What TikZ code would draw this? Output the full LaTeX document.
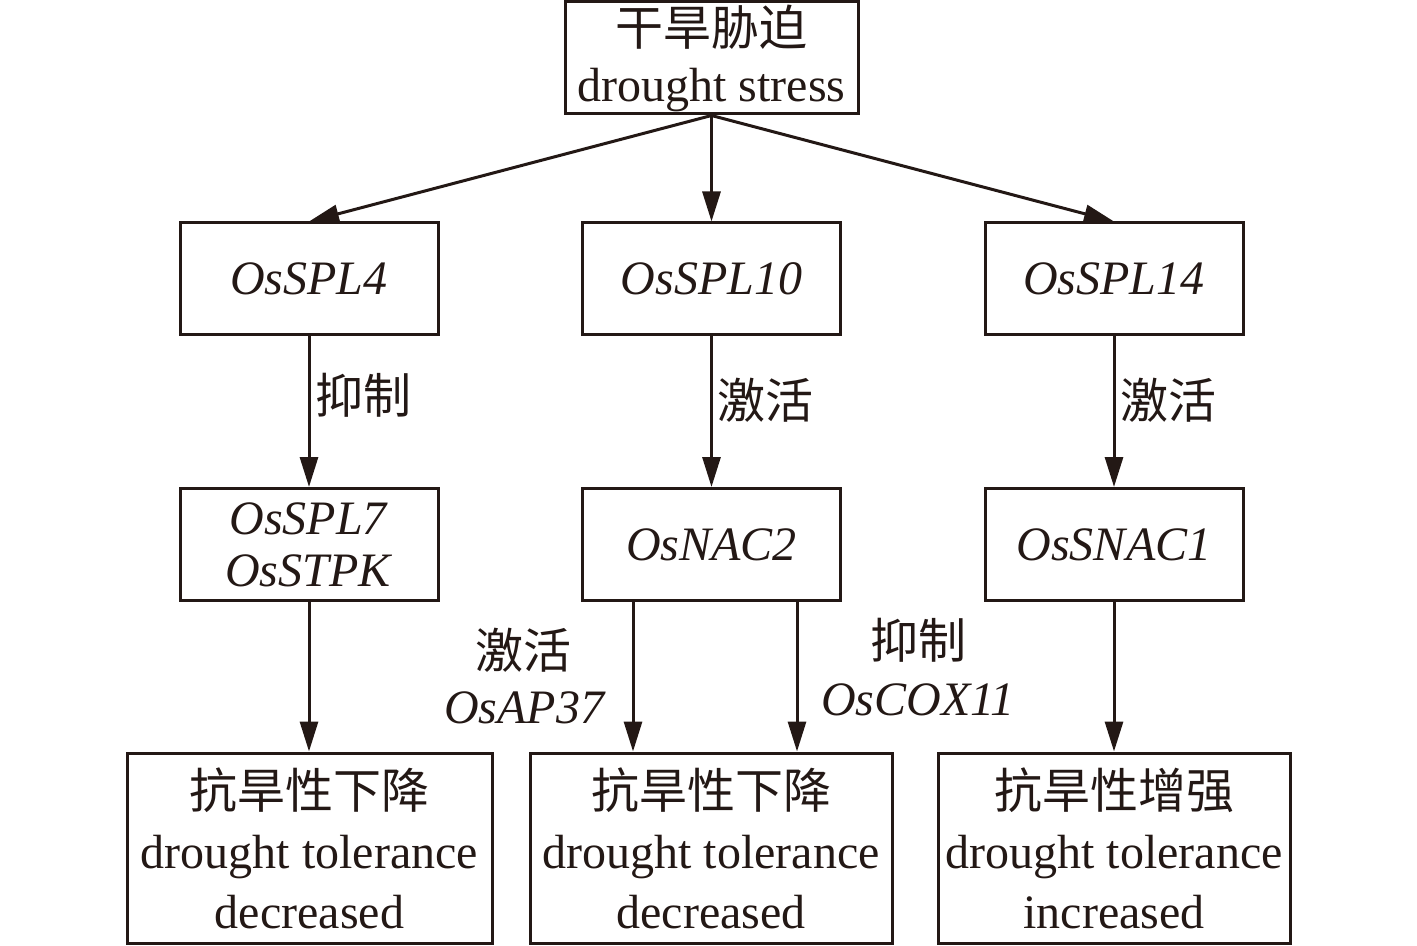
\documentclass[tikz,border=0pt]{standalone}
\usepackage{fontspec}
\setmainfont{Liberation Serif}
\newfontfamily\cjk{Noto Sans CJK SC}
\usetikzlibrary{arrows.meta,positioning}
\definecolor{ink}{HTML}{231815}
\tikzset{
	box/.style={draw=ink,line width=1.5pt,rectangle,align=center,inner sep=0pt,text=ink,
		font=\fontsize{24}{30}\selectfont},
	genebox/.style={box,minimum width=129pt,minimum height=56pt},
	resbox/.style={box,minimum height=95pt},
	arr/.style={draw=ink,line width=1.5pt,-{Triangle[length=15pt,width=9pt]}},
	lbl/.style={text=ink,align=center,inner sep=0pt,font=\fontsize{24}{30}\selectfont}
}

\begin{document}
\begin{tikzpicture}[x=0.5pt,y=-0.5pt]
			\useasboundingbox (0,0) rectangle (1417,946);
			\node[box,minimum width=146.5pt,minimum height=56pt] (stress) at (711.5,58) {{\cjk 干旱胁迫}\\[-2pt]drought stress};
			
			\node[genebox] (spl4) at (309,279) {\textit{OsSPL4}};
			\node[genebox] (spl10) at (711.5,279) {\textit{OsSPL10}};
			\node[genebox] (spl14) at (1114,279) {\textit{OsSPL14}};
			
			\node[genebox] (spl7) at (309,544.5) {\textit{OsSPL7}\\[-4pt]\textit{OsSTPK}};
			\node[genebox] (nac2) at (711.5,544.5) {\textit{OsNAC2}};
			\node[genebox] (snac1) at (1114,544.5) {\textit{OsSNAC1}};
			
			\node[resbox,minimum width=182.5pt] (dec1) at (309.5,848) {{\cjk 抗旱性下降}\\drought tolerance\\decreased};
			\node[resbox,minimum width=181pt] (dec2) at (711,848) {{\cjk 抗旱性下降}\\drought tolerance\\decreased};
			\node[resbox,minimum width=176pt] (inc) at (1114,848) {{\cjk 抗旱性增强}\\drought tolerance\\increased};
			
			\draw[arr] (stress.south) -- (spl4.north);
			\draw[arr] (stress.south) -- (spl10.north);
			\draw[arr] (stress.south) -- (spl14.north);
			
			\draw[arr] (spl4) -- (spl7);
			\draw[arr] (spl10) -- (nac2);
			\draw[arr] (spl14) -- (snac1);
			\draw[arr] (spl7) -- (spl7 |- dec1.north);
			\draw[arr] ([xshift=-39.25pt]nac2.south) -- ([xshift=-39.25pt]nac2.south |- dec2.north);
			\draw[arr] ([xshift=42.75pt]nac2.south) -- ([xshift=42.75pt]nac2.south |- dec2.north);
			\draw[arr] (snac1) -- (snac1 |- inc.north);
			
			\node[lbl] (inh1) at (363,395) {\cjk 抑制};
			\node[lbl] (act1) at (765,400) {\cjk 激活};
			\node[lbl] (act2) at (1168,400) {\cjk 激活};
			\node[lbl] (act3) at (523,650) {\cjk 激活};
			\node[lbl] (ap37) at (525,708) {\textit{OsAP37}};
			\node[lbl] (inh2) at (918,640) {\cjk 抑制};
			\node[lbl] (cox11) at (918,700) {\textit{OsCOX11}};
		\end{tikzpicture}
\end{document}
